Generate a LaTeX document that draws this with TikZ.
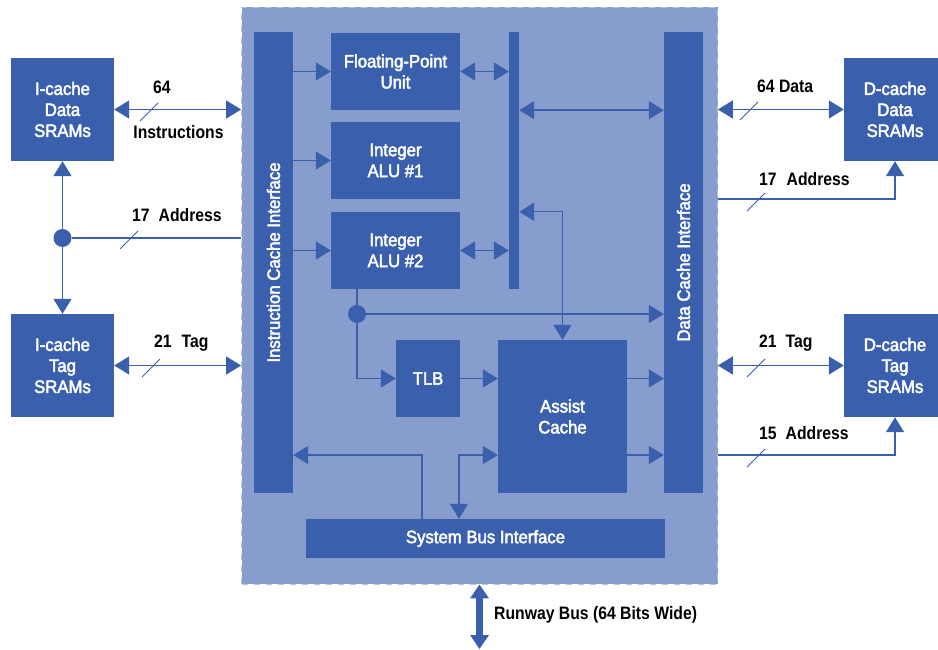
\documentclass[tikz,border=0pt]{standalone}
\usepackage{fontspec}
\setmainfont{Liberation Sans}[FakeStretch=0.93]
\newfontfamily\lblfont{Liberation Sans Bold}[FakeStretch=0.875]
\newfontfamily\boxfont{Liberation Sans}[FakeStretch=0.93,FakeBold=2.5]
\usetikzlibrary{arrows.meta}
\definecolor{dblue}{RGB}{58,96,173}
\definecolor{chipbg}{RGB}{134,157,206}
\begin{document}
\begin{tikzpicture}[x=1pt,y=-1pt,
  box/.style={fill=dblue, text=white, inner sep=0pt, align=center, font=\boxfont\fontsize{18}{21}\selectfont},
  boxtext/.style={text=white, inner sep=0pt, align=center, font=\boxfont\fontsize{18}{21}\selectfont},
  lbl/.style={text=black, inner sep=0pt, font=\lblfont\fontsize{18}{21}\selectfont},
  conn/.style={draw=dblue, line width=1.4pt},
  Tri/.tip={Triangle[length=15pt,width=18pt]},
  BigTri/.tip={Triangle[length=14pt,width=18pt]},
  slashmark/.style={draw=dblue, line width=1pt},
  jdot/.style={circle, fill=dblue, minimum size=18pt, inner sep=0pt}]
\useasboundingbox (0,0) rectangle (938,650);
% chip background
\node[fill=chipbg, draw=chipbg!60!white, dash pattern=on 6pt off 6pt, line width=0.8pt,
      minimum width=476pt, minimum height=577pt, inner sep=0pt] (chip) at (479.5,295.5) {};
% internal blocks
\node[box, minimum width=39pt, minimum height=461pt] (ici) at (273.5,262.5) {};
\node[boxtext, rotate=90] (icitext) at (ici.center) {Instruction Cache Interface};
\node[box, minimum width=39pt, minimum height=461pt] (dci) at (683.5,262.5) {};
\node[boxtext, rotate=90] (dcitext) at (dci.center) {Data Cache Interface};
\node[box, minimum width=129pt, minimum height=77pt] (fpu) at (395.5,71.5) {Floating-Point\\Unit};
\node[box, minimum width=129pt, minimum height=77pt] (alu1) at (395.5,160.5) {Integer\\ALU \#1};
\node[box, minimum width=129pt, minimum height=77pt] (alu2) at (395.5,250.5) {Integer\\ALU \#2};
\node[box, minimum width=10pt, minimum height=257pt] (bus) at (514,160.5) {};
\node[box, minimum width=64pt, minimum height=77pt] (tlb) at (428,378.5) {TLB};
\node[box, minimum width=129pt, minimum height=153pt] (ac) at (562.5,416.5) {Assist\\Cache};
\node[box, minimum width=359pt, minimum height=39pt] (sbi) at (485.5,538.5) {System Bus Interface};
% external SRAMs
\node[box, minimum width=103pt, minimum height=103pt] (icd) at (62.5,109.5) {I-cache\\Data\\SRAMs};
\node[box, minimum width=103pt, minimum height=103pt] (ict) at (62.5,365.5) {I-cache\\Tag\\SRAMs};
\node[box, minimum width=102pt, minimum height=103pt] (dcd) at (895,109.5) {D-cache\\Data\\SRAMs};
\node[box, minimum width=102pt, minimum height=103pt] (dct) at (895,365.5) {D-cache\\Tag\\SRAMs};
% helper coordinates
\coordinate (y199) at (0,199);
\coordinate (y455) at (0,455);
\coordinate (c1) at (422,0);
\coordinate (c2) at (459,0);
\coordinate (rb) at (479.5,649);
% dots
\node[jdot] (d1) at (62.5,238) {};
\node[jdot] (d2) at (357,314) {};
% left external connectors
\draw[conn,Tri-Tri] (icd.east) -- (icd.east -| chip.west);
\draw[conn,Tri-Tri] (ict.east) -- (ict.east -| chip.west);
\draw[conn] (d1) -- (d1 -| chip.west);
\draw[conn,-Tri] (d1) -- (icd.south);
\draw[conn,-Tri] (d1) -- (ict.north);
% ICI to units
\draw[conn,-Tri] (ici.east |- fpu.west) -- (fpu.west);
\draw[conn,-Tri] (ici.east |- alu1.west) -- (alu1.west);
\draw[conn,-Tri] (ici.east |- alu2.west) -- (alu2.west);
% units to bus
\draw[conn,Tri-Tri] (fpu.east) -- (fpu.east -| bus.west);
\draw[conn,Tri-Tri] (alu2.east) -- (alu2.east -| bus.west);
\draw[conn,Tri-Tri] (bus.east |- fpu.south) -- (dci.west |- fpu.south);
\draw[conn,Tri-Tri] (bus.east |- alu2.north) -| (ac.north);
% ALU2 / TLB / assist cache
\draw[conn] (alu2.south -| d2) -- (d2);
\draw[conn,-Tri] (d2) -- (d2 -| dci.west);
\draw[conn,-Tri] (d2) |- (tlb.west);
\draw[conn,-Tri] (tlb.east) -- (tlb.east -| ac.west);
\draw[conn,-Tri] (tlb.east -| ac.east) -- (tlb.east -| dci.west);
\draw[conn,-Tri] (ac.east |- y455) -- (dci.west |- y455);
\draw[conn,-Tri] (sbi.north -| c1) |- (ici.east |- y455);
\draw[conn,Tri-Tri] (ac.west |- y455) -| (sbi.north -| c2);
% right external connectors
\draw[conn,Tri-Tri] (chip.east |- dcd.west) -- (dcd.west);
\draw[conn,-Tri] (chip.east |- y199) -| (dcd.south);
\draw[conn,Tri-Tri] (chip.east |- dct.west) -- (dct.west);
\draw[conn,-Tri] (chip.east |- y455) -| (dct.south);
% runway bus
\draw[draw=dblue, line width=7pt, BigTri-BigTri] (chip.south -| rb) -- (rb);
% slash marks
\draw[slashmark] (140,121) -- (158,103);
\draw[slashmark] (120,249) -- (138,231);
\draw[slashmark] (142,377) -- (160,359);
\draw[slashmark] (740,120) -- (758,102);
\draw[slashmark] (747,211) -- (765,193);
\draw[slashmark] (747,377) -- (765,359);
\draw[slashmark] (747,467) -- (765,449);
% labels
\node[lbl] (l64) at (162,87) {64};
\node[lbl] (linstr) at (178.5,132) {Instructions};
\node[lbl, anchor=west] (laddr1) at (132,215) {17\hspace{9pt}Address};
\node[lbl, anchor=west] (ltag1) at (154,343) {21\hspace{10pt}Tag};
\node[lbl, anchor=west] (ldata) at (757,86) {64 Data};
\node[lbl, anchor=west] (laddr2) at (759,179) {17\hspace{10pt}Address};
\node[lbl, anchor=west] (ltag2) at (759,343) {21\hspace{9pt}Tag};
\node[lbl, anchor=west] (laddr3) at (759,433) {15\hspace{9pt}Address};
\node[lbl, anchor=west] (lrunway) at (494,615) {Runway Bus (64 Bits Wide)};
\end{tikzpicture}
\end{document}
